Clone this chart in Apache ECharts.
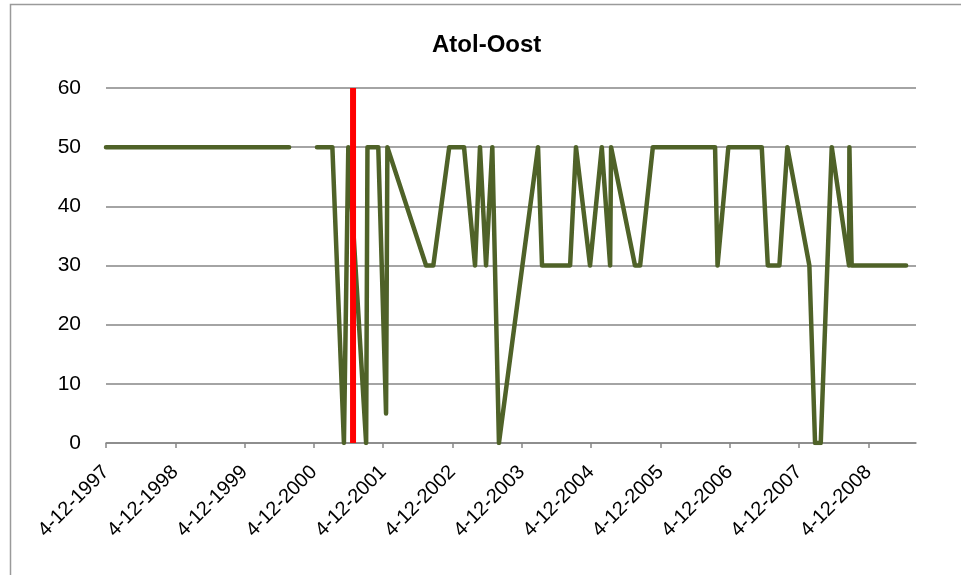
<!DOCTYPE html>
<html>
<head>
<meta charset="utf-8">
<script src="https://cdn.jsdelivr.net/npm/echarts@6/dist/echarts.min.js"></script>
<style>
  html, body { margin: 0; padding: 0; background: #fff; }
  #chart { width: 961px; height: 575px; }
</style>
</head>
<body>
<div id="chart"></div>
<script>
// measurement dates (d-m-yyyy on the axis) and levels; '-' = no data (gap)
const obsDates = [
  '1997-12-04', '2000-07-26', '2000-10-15',
  '2000-12-20', '2001-03-11', '2001-05-11', '2001-06-03', '2001-09-05', '2001-09-12',
  '2001-11-08', '2001-12-19', '2001-12-26', '2002-07-18', '2002-08-25', '2002-11-17',
  '2003-02-03', '2003-04-02', '2003-04-28', '2003-05-30', '2003-07-02', '2003-08-06',
  '2004-02-28', '2004-03-20', '2004-08-15', '2004-09-15', '2004-11-28', '2005-01-29',
  '2005-03-14', '2005-03-19', '2005-07-23', '2005-08-19', '2005-10-25', '2006-09-18',
  '2006-10-01', '2006-11-27', '2007-05-22', '2007-06-23', '2007-08-23', '2007-10-04',
  '2008-01-28', '2008-02-27', '2008-03-28', '2008-05-25', '2008-08-24', '2008-08-26',
  '2008-09-07', '2009-06-21'
]
const obsValues = [
  50, 50, '-',
  50, 50, 0, 50, 0, 50,
  50, 5, 50, 30, 30, 50,
  50, 30, 50, 30, 50, 0,
  50, 30, 30, 50, 30, 50,
  30, 50, 30, 30, 50, 50,
  30, 50, 50, 30, 30, 50,
  30, 0, 0, 50, 30, 50,
  30, 30
]

// red marker line
const markerDate = '2001-06-28'
const markerRange = [0, 60]

// x axis ticks
const tickDates = [
  '1997-12-04', '1998-12-04', '1999-12-04', '2000-12-04', '2001-12-04', '2002-12-04',
  '2003-12-04', '2004-12-04', '2005-12-04', '2006-12-04', '2007-12-04', '2008-12-04'
]
const axisStart = '1997-12-04'
const axisEnd = '2009-08-12'

// 'yyyy-mm-dd' -> UTC ms
const toTs = (s) => {
  const p = s.split('-').map(Number)
  return Date.UTC(p[0], p[1] - 1, p[2])
}
const fmtDate = (v) => {
  const d = new Date(v)
  return d.getUTCDate() + '-' + (d.getUTCMonth() + 1) + '-' + d.getUTCFullYear()
}

const lineData = obsDates.map((d, i) => [toTs(d), obsValues[i]])
const markerData = markerRange.map(v => [toTs(markerDate), v])
const tickValues = tickDates.map(toTs)

const chart = echarts.init(document.getElementById('chart'))

const option = {
  animation: false,
  backgroundColor: '#fff',
  textStyle: { fontFamily: 'Liberation Sans' },
  title: {
    text: 'Atol-Oost',
    left: 427,
    top: 28,
    textStyle: { fontSize: 24, fontWeight: 'bold', color: '#000', fontFamily: 'Liberation Sans' }
  },
  graphic: [
    {
      type: 'rect',
      shape: { x: 10.5, y: 4.5, width: 1000, height: 1000 },
      style: { fill: 'none', stroke: '#9a9a9a', lineWidth: 1.5 },
      silent: true
    }
  ],
  grid: { left: 106, right: 45, top: 88, bottom: 132 },
  xAxis: {
    type: 'value',
    min: toTs(axisStart),
    max: toTs(axisEnd),
    axisLine: { onZero: false, lineStyle: { color: '#868686', width: 1.5 } },
    axisTick: {
      show: true,
      length: 5,
      customValues: tickValues,
      lineStyle: { color: '#868686', width: 1.5 }
    },
    axisLabel: {
      customValues: tickValues,
      rotate: 45,
      margin: 26,
      fontSize: 20,
      color: '#000',
      formatter: fmtDate
    },
    splitLine: { show: false }
  },
  yAxis: {
    type: 'value',
    min: 0,
    max: 60,
    interval: 10,
    axisLine: { show: false },
    axisTick: { show: false },
    axisLabel: { fontSize: 21, color: '#000', margin: 25 },
    splitLine: { lineStyle: { color: '#868686', width: 1.5 } }
  },
  series: [
    {
      name: 'Atol-Oost',
      type: 'line',
      data: lineData,
      showSymbol: false,
      connectNulls: false,
      lineStyle: { color: '#4F6228', width: 4.5, cap: 'round', join: 'round' },
      z: 3
    },
    {
      name: 'marker',
      type: 'line',
      data: markerData,
      showSymbol: false,
      lineStyle: { color: '#ff0000', width: 6 },
      z: 4
    }
  ]
}

chart.setOption(option)
</script>
</body>
</html>
